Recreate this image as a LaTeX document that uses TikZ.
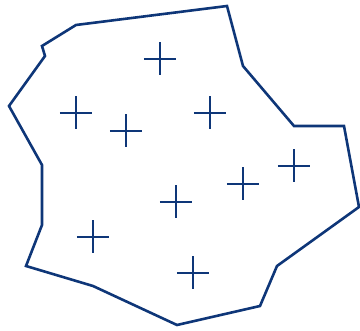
\documentclass[tikz,border=0pt]{standalone}
\definecolor{navy}{RGB}{14,54,120}
\tikzset{
  outline/.style={draw=navy, line width=2.6pt, line join=miter},
  plusmark/.pic={\draw[draw=navy, line width=2.8pt] (-16,0) -- (16,0) (0,-16.5) -- (0,16.5);}
}
\begin{document}
\begin{tikzpicture}[x=1pt,y=-1pt]
\useasboundingbox (0,0) rectangle (360,331);
\draw[outline] (76,25) -- (227,6) -- (243,66) -- (294,126) -- (344,126) -- (359,207)
  -- (277,266) -- (260,306) -- (177,325) -- (93,286) -- (26,266) -- (42,225)
  -- (42,165) -- (9,106) -- (45,56) -- (42,46) -- cycle;
\foreach \p in {(160,59),(76,113),(126,131),(210,113),(294,166),(243,184),(176,202),(93,237),(193,273)}
  \pic at \p {plusmark};
\end{tikzpicture}
\end{document}
